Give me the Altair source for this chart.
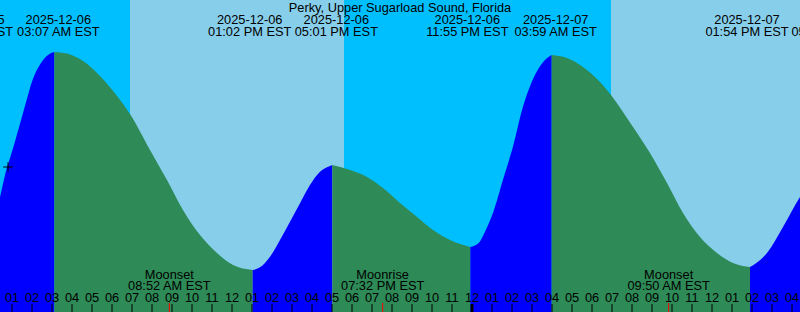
import altair as alt
import pandas as pd

# ---- data (hours since 2025-12-06 00:00 EST; tide height in ft) ----
CURVE_T = [-0.85, 0.4, 0.615, 1.10, 1.565, 2.065, 2.485, 2.80, 3.117, 3.75, 4.55, 5.40, 6.25, 6.90,
           7.90, 8.75, 9.55, 10.40, 11.25, 12.05, 13.033, 13.4, 13.9, 14.4, 14.9, 15.4, 15.9,
           16.4, 16.9, 17.017, 17.90, 18.75, 19.55, 20.40, 21.25, 22.05, 22.90, 23.917, 24.32,
           24.73, 25.07, 25.57, 26.07, 26.48, 27.07, 27.57, 27.983, 28.75, 29.55, 30.40, 30.95,
           32.05, 32.90, 33.75, 34.55, 35.40, 36.25, 37.05, 37.90, 38.75, 39.55, 40.40, 41.85]
CURVE_H = [0.08, 0.55, 0.74, 1.07, 1.40, 1.74, 1.90, 1.97, 2.00, 1.985, 1.91, 1.76, 1.56, 1.38,
           1.02, 0.72, 0.42, 0.17, -0.01, -0.13, -0.18, -0.153, -0.047, 0.12, 0.303, 0.487, 0.67,
           0.803, 0.86, 0.87, 0.82, 0.75, 0.64, 0.49, 0.35, 0.22, 0.12, 0.05, 0.087,
           0.237, 0.403, 0.737, 1.07, 1.403, 1.737, 1.903, 1.97, 1.94, 1.85, 1.70, 1.57,
           1.25, 0.99, 0.69, 0.39, 0.15, -0.01, -0.11, -0.15, -0.01, 0.25, 0.55, 0.90]

EVENT_T = [-0.85, 3.117, 13.033, 17.017, 23.917, 27.983, 37.9, 41.85]
EVENT_KIND = ["low", "high", "low", "high", "low", "high", "low", "high"]
EVENT_DATE = ["2025-12-05", "2025-12-06", "2025-12-06", "2025-12-06",
              "2025-12-06", "2025-12-07", "2025-12-07", "2025-12-07"]
EVENT_TIME = ["11:09 PM EST", "03:07 AM EST", "01:02 PM EST", "05:01 PM EST",
              "11:55 PM EST", "03:59 AM EST", "01:54 PM EST", "05:51 PM EST"]

SKY_START = [0.4, 6.9, 17.6, 30.95]
SKY_END = [6.9, 17.6, 30.95, 40.4]
SKY_KIND = ["night", "day", "night", "day"]

MOON_T = [8.867, 19.533, 33.833]
MOON_NAME = ["Moonset", "Moonrise", "Moonset"]
MOON_TIME = ["08:52 AM EST", "07:32 PM EST", "09:50 AM EST"]

HOUR_T = list(range(1, 41))
HOUR_LABELS = ["01", "02", "03", "04", "05", "06", "07", "08", "09", "10", "11", "12",
               "01", "02", "03", "04", "05", "06", "07", "08", "09", "10", "11", "12",
               "01", "02", "03", "04", "05", "06", "07", "08", "09", "10", "11", "12",
               "01", "02", "03", "04"]
MIDNIGHT_T = [24]

NOW_T = [0.8]
NOW_H = [0.85]

TITLE = "Perky, Upper Sugarload Sound, Florida"

# ---- tables ----
rows = []
for i in range(len(EVENT_T) - 1):
    a, b = EVENT_T[i], EVENT_T[i + 1]
    direction = "rising" if EVENT_KIND[i + 1] == "high" else "falling"
    for t, h in zip(CURVE_T, CURVE_H):
        if a <= t <= b:
            rows.append({"t": t, "h": h, "seg": i, "dir": direction})
curve = pd.DataFrame(rows)

sky = pd.DataFrame({"t0": SKY_START, "t1": SKY_END, "kind": SKY_KIND})
events = pd.DataFrame({"t": EVENT_T, "kind": EVENT_KIND, "date": EVENT_DATE, "time": EVENT_TIME})
moon = pd.DataFrame({"t": MOON_T, "name": MOON_NAME, "time": MOON_TIME})
hours = pd.DataFrame({"t": HOUR_T, "label": HOUR_LABELS})
midnight = pd.DataFrame({"t": MIDNIGHT_T})
now = pd.DataFrame({"t": NOW_T, "h": NOW_H})
title_df = pd.DataFrame({"label": [TITLE]})

W, H = 800, 312
FONT = "Liberation Sans"
FS = 12.8

xs = alt.Scale(domain=[0.4, 40.4], nice=False, zero=False)
ys = alt.Scale(domain=[-0.6, 2.52], nice=False, zero=False)
X = lambda f: alt.X(f, type="quantitative", scale=xs, axis=None)

sky_layer = alt.Chart(sky).mark_rect(clip=True).encode(
    x=X("t0"), x2="t1",
    y=alt.value(0), y2=alt.value(H),
    color=alt.Color("kind:N", scale=alt.Scale(domain=["night", "day"],
                                              range=["#00BFFF", "#87CEEB"]), legend=None),
)

water = alt.Chart(curve).mark_area(clip=True, interpolate="monotone").encode(
    x=X("t"),
    y=alt.Y("h:Q", scale=ys, axis=None, stack=None),
    y2=alt.Y2Datum(-0.6),
    detail="seg:N",
    color=alt.Color("dir:N", scale=alt.Scale(domain=["rising", "falling"],
                                             range=["#0000FF", "#2E8B57"]), legend=None),
)

def txt(df, field, y, dx=0, color="black"):
    return alt.Chart(df).mark_text(font=FONT, fontSize=FS, baseline="alphabetic",
                                   align="center", dx=dx, color=color, clip=True).encode(
        x=X("t"), y=alt.value(y), text=f"{field}:N")

highs = events[events.kind == "high"]
lows = events[events.kind == "low"]
ev_layers = [
    txt(highs, "date", 24, dx=4), txt(highs, "time", 36, dx=4),
    txt(lows, "date", 24, dx=-3), txt(lows, "time", 36, dx=-3),
]

title = alt.Chart(title_df).mark_text(font=FONT, fontSize=FS, baseline="alphabetic",
                                      align="center").encode(
    x=alt.value(W / 2), y=alt.value(12), text="label:N")

moon_layers = [txt(moon, "name", 278.5), txt(moon, "time", 290)]
moon_ticks = alt.Chart(moon).mark_rule(color="#FF0000", strokeWidth=1).encode(
    x=X("t"), y=alt.value(303), y2=alt.value(H))

hour_ticks = alt.Chart(hours).mark_rule(color="black", strokeWidth=1).encode(
    x=X("t"), y=alt.value(304), y2=alt.value(H))
mid_ticks = alt.Chart(midnight).mark_rule(color="black", strokeWidth=3).encode(
    x=X("t"), y=alt.value(304), y2=alt.value(H))
hour_text = alt.Chart(hours).mark_text(font=FONT, fontSize=FS, baseline="alphabetic",
                                       align="center", clip=True).encode(
    x=X("t"), y=alt.value(302), text="label:N")

now_mark = alt.Chart(now).mark_point(shape="M-1,0L1,0M0,-1L0,1", size=90, filled=False,
                                     color="black", strokeWidth=1, opacity=1).encode(
    x=X("t"), y=alt.Y("h:Q", scale=ys, axis=None))

chart = alt.layer(
    sky_layer, water, *ev_layers, title, *moon_layers, hour_ticks, moon_ticks, mid_ticks,
    hour_text, now_mark,
).resolve_scale(color="independent").properties(
    width=W, height=H, padding=0, autosize=alt.AutoSizeParams(type="none"),
    background="#00BFFF",
).configure_view(stroke=None)

chart.save("out.html", embed_options={"renderer": "svg", "actions": False})
